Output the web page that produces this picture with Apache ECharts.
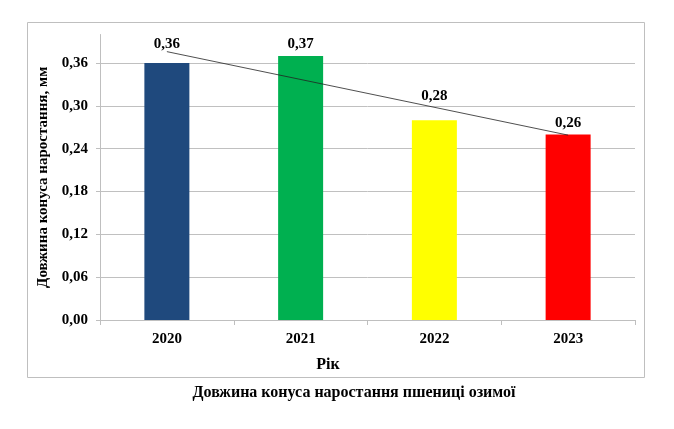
<!DOCTYPE html>
<html>
<head>
<meta charset="utf-8">
<script src="https://cdn.jsdelivr.net/npm/echarts@6/dist/echarts.min.js"></script>
<style>
  html, body { margin: 0; padding: 0; background: #fff; }
  #chart { width: 674px; height: 429px; }
</style>
</head>
<body>
<div id="chart"></div>
<script>
// Довжина конуса наростання пшениці озимої

const years = ['2020', '2021', '2022', '2023'];
const lengths = [0.36, 0.37, 0.28, 0.26];
const barColors = ['#1F497D', '#00B050', '#FFFF00', '#FF0000'];
// лінійний тренд (кінці)
const trend = [0.376, null, null, 0.259];

const yMin = 0;
const yMax = 0.4;
const yStep = 0.06;

const font = 'Liberation Serif, Times New Roman, serif';
const labelGap = [11, 4, 17, 4];

const chart = echarts.init(document.getElementById('chart'));

const fmt = v => v.toFixed(2).replace('.', ',');

let option = {
  backgroundColor: '#fff',
  animation: false,
  textStyle: { fontFamily: font },
  title: [
    {
      text: 'Рік',
      left: 323,
      top: 352,
      textAlign: 'center',
      textStyle: { fontFamily: font, fontSize: 16, fontWeight: 'bold', color: '#000' }
    },
    {
      text: 'Довжина конуса наростання пшениці озимої',
      left: 349,
      top: 380,
      textAlign: 'center',
      textStyle: { fontFamily: font, fontSize: 16, fontWeight: 'bold', color: '#000' }
    }
  ],
  graphic: [
    {
      type: 'rect',
      silent: true,
      z: -1,
      shape: { x: 27.5, y: 22.5, width: 617, height: 355 },
      style: { fill: null, stroke: '#bfbfbf', lineWidth: 1 }
    }
  ],
  grid: { left: 100, right: 39, top: 34.5, bottom: 109 },
  xAxis: {
    type: 'category',
    data: years,
    axisLine: { lineStyle: { color: '#bfbfbf' } },
    axisTick: { show: true, length: 5, alignWithLabel: false, lineStyle: { color: '#bfbfbf' } },
    axisLabel: { color: '#000', fontSize: 15, fontWeight: 'bold', fontFamily: font, margin: 12 }
  },
  yAxis: {
    type: 'value',
    min: yMin,
    max: yMax,
    interval: yStep,
    name: 'Довжина конуса наростання, мм',
    nameLocation: 'middle',
    nameGap: 46,
    nameTextStyle: { color: '#000', fontSize: 15, fontWeight: 'bold', fontFamily: font },
    axisLine: { show: true, lineStyle: { color: '#bfbfbf' } },
    axisTick: { show: true, length: 4, lineStyle: { color: '#bfbfbf' } },
    splitLine: { show: true, showMaxLine: false, lineStyle: { color: '#c0c0c0' } },
    axisLabel: {
      color: '#000', fontSize: 15, fontWeight: 'bold', fontFamily: font,
      margin: 12, showMaxLabel: false,
      formatter: v => fmt(v)
    }
  },
  series: [
    {
      name: 'Довжина',
      type: 'bar',
      barWidth: 45,
      data: lengths.map((v, i) => ({
        value: v,
        itemStyle: { color: barColors[i] },
        label: { distance: labelGap[i] }
      })),
      label: {
        show: true,
        position: 'top',
        color: '#000',
        fontSize: 15,
        fontWeight: 'bold',
        fontFamily: font,
        formatter: p => fmt(p.value)
      }
    },
    {
      name: 'Тренд',
      type: 'line',
      data: trend,
      connectNulls: true,
      symbol: 'none',
      silent: true,
      z: 3,
      lineStyle: { color: '#222', width: 0.8 }
    }
  ]
};

chart.setOption(option);
</script>
</body>
</html>
